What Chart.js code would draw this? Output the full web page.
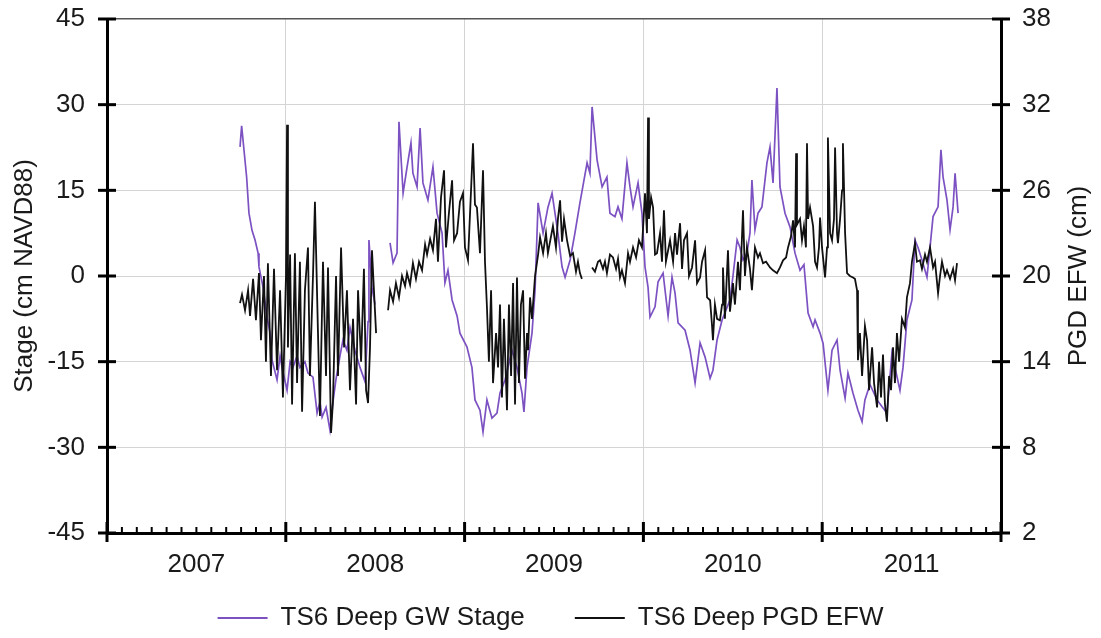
<!DOCTYPE html>
<html>
<head>
<meta charset="utf-8">
<script src="https://cdn.jsdelivr.net/npm/chart.js@4.4.1/dist/chart.umd.min.js"></script>
<style>
  html, body { margin: 0; padding: 0; background: #fff; }
  #wrap { width: 1101px; height: 638px; }
</style>
</head>
<body>
<div id="wrap"><canvas id="chart" width="1101" height="638"></canvas></div>
<script>
// Tick labels / titles
const yearLabels = ['2007', '2008', '2009', '2010', '2011'];
const leftTitle = 'Stage (cm NAVD88)';
const rightTitle = 'PGD EFW (cm)';
const stageName = 'TS6 Deep GW Stage';
const efwName = 'TS6 Deep PGD EFW';

// TS6 Deep GW Stage (cm NAVD88), time in decimal years
const stageT = [2007.744, 2007.753, 2007.781, 2007.794, 2007.811, 2007.828, 2007.845, 2007.850, 2007.873, 2007.895,
  2007.912, 2007.923, 2007.951, 2007.968, 2007.979, 2008.007, 2008.024, 2008.040, 2008.063, 2008.079,
  2008.107, 2008.124, 2008.152, 2008.175, 2008.191, 2008.203, 2008.225, 2008.247, 2008.264, 2008.281,
  2008.303, 2008.320, 2008.342, 2008.359, 2008.387, 2008.415, 2008.443, 2008.460, 2008.465, 2008.482,
  2008.499, 2008.540,
  2008.583, 2008.600, 2008.622, 2008.633, 2008.656, 2008.678, 2008.700, 2008.711, 2008.734, 2008.751,
  2008.767, 2008.795, 2008.823, 2008.846, 2008.874, 2008.890, 2008.907, 2008.930, 2008.958, 2008.974,
  2009.013, 2009.041, 2009.058, 2009.086, 2009.103, 2009.125, 2009.153, 2009.181, 2009.198, 2009.226,
  2009.265, 2009.293, 2009.321, 2009.332, 2009.349, 2009.377, 2009.394, 2009.411, 2009.439, 2009.466,
  2009.489, 2009.522, 2009.545, 2009.562, 2009.590, 2009.617, 2009.645, 2009.685, 2009.701, 2009.713,
  2009.741, 2009.769, 2009.796, 2009.813, 2009.841, 2009.858, 2009.880, 2009.908, 2009.925, 2009.942,
  2009.970, 2009.992, 2010.009, 2010.026, 2010.037, 2010.065, 2010.082, 2010.110, 2010.138, 2010.160,
  2010.177, 2010.194, 2010.233, 2010.261, 2010.289, 2010.317, 2010.345, 2010.373, 2010.389, 2010.412,
  2010.440, 2010.484, 2010.501, 2010.524, 2010.540, 2010.557, 2010.579, 2010.596, 2010.607, 2010.624,
  2010.641, 2010.663, 2010.691, 2010.708, 2010.725, 2010.747, 2010.764, 2010.792, 2010.820, 2010.848,
  2010.876, 2010.898, 2010.921, 2010.949, 2010.960, 2010.988, 2011.005, 2011.032, 2011.055, 2011.083,
  2011.100, 2011.128, 2011.144, 2011.172, 2011.200, 2011.223, 2011.239, 2011.267, 2011.307, 2011.335,
  2011.362, 2011.390, 2011.407, 2011.435, 2011.452, 2011.474, 2011.502, 2011.519, 2011.536, 2011.558,
  2011.586, 2011.603, 2011.620, 2011.648, 2011.664, 2011.676, 2011.698, 2011.715, 2011.732, 2011.743,
  2011.760];
const stageV = [22.6, 26.3, 17.3, 11, 8, 6.3, 4, 1.6, -2, -7.2,
  -10, -14.7, -18.2, -14, -16, -20, -15, -16, -14, -16,
  -15, -17, -17.7, -24, -22, -24.7, -23, -27, -22, -18,
  -14, -11.2, -13, -9, -13, -16, -18.5, -8, 6.3, -2,
  -5, null,
  5.8, 2.3, 4, 27, 14.5, 19, 23.3, 18, 15.6, 25.9,
  16.3, 13.3, 19.1, 11, 7.5, -1.2, 1, -4.2, -7, -10,
  -12.4, -16, -21.7, -23.5, -27.3, -21.7, -24.9, -24, -20.5, -18.2,
  -13, -16, -20.5, -23.8, -16, -10, -2.5, 12.8, 7.5, 12,
  14.5, 7.5, 1.6, -0.2, 2.8, 7.5, 12.8, 19.8, 18, 29.6,
  20.3, 15.6, 17.3, 11, 10.4, 12.1, 10, 19.8, 15.6, 12.1,
  16.3, 11, 1.6, -2, -7.2, -5.4, -1, 0.5, -7, -0.2,
  -3, -8.2, -9.5, -13, -18.7, -11.7, -14.2, -17.9, -16.5, -11.2,
  -7.7, -4.2, 0, 6.3, 5, 2.8, 4, 7.5, 16.8, 8.1,
  11, 12.1, 19.8, 22.6, 16.3, 32.9, 15.6, 11, 8.6, 4,
  1, 2, -6.5, -8.9, -7.7, -10, -11.8, -20, -13, -11.2,
  -16.5, -21.4, -17, -20.5, -23.5, -25.5, -21.7, -19, -21.7, -22.9,
  -24, -13.5, -16, -20, -16, -7.7, -4.2, 6.3, 5, 2.8,
  -0.2, 5, 10.4, 12.1, 22.1, 17.3, 13.3, 8.1, 12.1, 18,
  11];

// TS6 Deep PGD EFW (cm), time in decimal years
const efwT = [2007.744, 2007.755, 2007.772, 2007.789, 2007.800, 2007.817, 2007.833, 2007.850, 2007.861, 2007.878,
  2007.889, 2007.900, 2007.917, 2007.934, 2007.951, 2007.968, 2007.984, 2008.001, 2008.007, 2008.012,
  2008.024, 2008.035, 2008.051, 2008.063, 2008.079, 2008.091, 2008.107, 2008.124, 2008.135, 2008.152,
  2008.163, 2008.180, 2008.191, 2008.208, 2008.225, 2008.236, 2008.253, 2008.264, 2008.281, 2008.292,
  2008.309, 2008.326, 2008.342, 2008.359, 2008.376, 2008.393, 2008.404, 2008.421, 2008.437, 2008.449,
  2008.460, 2008.471, 2008.482, 2008.493, 2008.505, 2008.520,
  2008.572, 2008.583, 2008.600, 2008.616, 2008.633, 2008.650, 2008.667, 2008.678, 2008.695, 2008.711,
  2008.728, 2008.745, 2008.762, 2008.779, 2008.790, 2008.807, 2008.823, 2008.840, 2008.851, 2008.868,
  2008.885, 2008.896, 2008.913, 2008.930, 2008.941, 2008.958, 2008.974, 2008.991, 2009.002, 2009.019,
  2009.036, 2009.047, 2009.058, 2009.069, 2009.086, 2009.103, 2009.114, 2009.125, 2009.136, 2009.148,
  2009.159, 2009.176, 2009.187, 2009.198, 2009.209, 2009.220, 2009.237, 2009.248, 2009.260, 2009.271,
  2009.282, 2009.293, 2009.304, 2009.315, 2009.327, 2009.338, 2009.349, 2009.355, 2009.366, 2009.377,
  2009.394, 2009.411, 2009.422, 2009.439, 2009.455, 2009.466, 2009.494, 2009.511, 2009.522, 2009.534,
  2009.545, 2009.556, 2009.573, 2009.590, 2009.606, 2009.623, 2009.634, 2009.645, 2009.656, 2009.690,
  2009.713, 2009.729, 2009.746, 2009.757, 2009.774, 2009.785, 2009.796, 2009.813, 2009.830, 2009.847,
  2009.858, 2009.869, 2009.880, 2009.897, 2009.914, 2009.925, 2009.942, 2009.959, 2009.975, 2009.992,
  2010.009, 2010.020, 2010.026, 2010.031, 2010.043, 2010.054, 2010.065, 2010.076, 2010.093, 2010.104,
  2010.115, 2010.126, 2010.149, 2010.166, 2010.177, 2010.188, 2010.205, 2010.216, 2010.227, 2010.244,
  2010.255, 2010.272, 2010.289, 2010.300, 2010.317, 2010.328, 2010.345, 2010.356, 2010.373, 2010.384,
  2010.389, 2010.400, 2010.412, 2010.428, 2010.440, 2010.445, 2010.456, 2010.473, 2010.484, 2010.501,
  2010.512, 2010.529, 2010.540, 2010.557, 2010.568, 2010.579, 2010.596, 2010.607, 2010.624, 2010.641,
  2010.652, 2010.669, 2010.686, 2010.708, 2010.725, 2010.747, 2010.764, 2010.781, 2010.798, 2010.809,
  2010.826, 2010.837, 2010.848, 2010.854, 2010.859, 2010.876, 2010.887, 2010.898, 2010.909, 2010.915,
  2010.921, 2010.932, 2010.949, 2010.960, 2010.971, 2010.982, 2010.988, 2010.999, 2011.016, 2011.027,
  2011.032, 2011.044, 2011.055, 2011.066, 2011.072, 2011.083, 2011.088, 2011.100, 2011.111, 2011.116,
  2011.128, 2011.139, 2011.155, 2011.172, 2011.183, 2011.195, 2011.200, 2011.211, 2011.223, 2011.239,
  2011.251, 2011.262, 2011.279, 2011.290, 2011.307, 2011.318, 2011.329, 2011.340, 2011.351, 2011.362,
  2011.374, 2011.385, 2011.396, 2011.407, 2011.418, 2011.430, 2011.446, 2011.463, 2011.474, 2011.491,
  2011.502, 2011.519, 2011.530, 2011.547, 2011.558, 2011.575, 2011.586, 2011.603, 2011.620, 2011.631,
  2011.648, 2011.659, 2011.670, 2011.687, 2011.698, 2011.715, 2011.732, 2011.743, 2011.754];
const efwV = [18.1, 18.7, 17.6, 19.0, 17.2, 19.8, 16.9, 20.2, 15.5, 20.0,
  14.0, 20.9, 13.0, 20.5, 13.4, 19.0, 11.5, 20.0, 30.6, 15.0,
  21.5, 11.0, 21.6, 12.5, 21.0, 10.5, 19.0, 22.0, 13.0, 20.0,
  25.2, 16.0, 10.2, 21.0, 13.0, 20.6, 9.0, 11.3, 20.0, 13.0,
  22.0, 15.0, 19.0, 12.0, 17.0, 11.0, 19.0, 14.0, 20.5, 12.0,
  11.1, 15.0, 21.8, 19.0, 16.0, null,
  17.6, 19.0, 18.2, 19.5, 18.5, 20.0, 19.3, 20.2, 19.4, 20.9,
  19.8, 21.0, 20.4, 22.2, 21.5, 22.6, 21.8, 24.0, 21.0, 25.5,
  27.4, 22.0, 24.5, 26.7, 22.5, 23.0, 25.2, 25.8, 22.0, 21.1,
  26.0, 29.3, 25.0, 24.8, 21.6, 27.4, 21.0, 17.8, 14.0, 19.0,
  12.5, 16.0, 13.6, 18.0, 11.5, 17.0, 10.6, 18.0, 13.0, 19.5,
  11.0, 19.9, 12.5, 18.0, 19.0, 12.8, 16.0, 14.8, 18.5, 17.0,
  20.0, 21.5, 22.7, 21.6, 23.0, 21.6, 23.5, 22.0, 24.0, 25.3,
  22.4, 24.0, 22.5, 21.4, 21.6, 20.3, 21.0, 20.2, 19.8, null,
  20.6, 20.3, 21.0, 21.1, 20.5, 21.0, 20.2, 21.5, 21.3, 20.5,
  21.2, 19.9, 20.4, 19.5, 21.6, 21.0, 22.0, 21.3, 22.5, 22.0,
  25.8, 23.0, 31.1, 24.0, 25.5, 24.8, 21.5, 21.6, 23.0, 21.0,
  24.6, 21.0, 22.5, 21.0, 23.0, 21.5, 23.7, 20.5, 22.5, 23.0,
  20.0, 20.6, 22.5, 19.5, 19.9, 21.0, 21.8, 18.5, 18.3, 16.5,
  15.5, 18.0, 17.0, 16.9, 18.0, 20.6, 17.0, 21.8, 17.5, 19.5,
  18.0, 21.0, 19.0, 24.6, 20.0, 22.0, 20.5, 19.0, 22.0, 21.3,
  21.6, 20.9, 21.0, 20.6, 20.4, 20.2, 20.6, 21.1, 21.3, 22.0,
  22.8, 23.9, 22.0, 28.6, 23.6, 24.0, 22.5, 23.5, 22.0, 29.3,
  24.0, 24.8, 23.5, 21.0, 20.6, 22.0, 24.1, 22.0, 19.9, 22.0,
  29.7, 23.0, 22.5, 24.0, 29.0, 23.0, 22.3, 24.0, 26.0, 29.3,
  23.0, 20.2, 20.0, 19.9, 19.8, 19.0, 14.1, 16.0, 13.0, 16.5,
  15.5, 12.0, 15.0, 12.5, 10.8, 14.0, 11.5, 14.5, 11.0, 9.8,
  13.0, 12.0, 15.0, 12.5, 16.0, 14.0, 17.0, 16.4, 18.5, 19.5,
  21.0, 22.3, 21.0, 21.1, 20.5, 21.5, 21.0, 22.0, 20.6, 21.0,
  18.8, 20.0, 21.0, 20.0, 20.4, 19.8, 20.5, 19.7, 20.9];

// monthly tick positions on the time axis
const monthTicks = [];
for (let i = 0; i <= 60; i++) monthTicks.push(2007 + i / 12);

const fontFamily = "'Liberation Sans', Arial, Helvetica, sans-serif";
const textColor = '#1a1a1a';
const legendPad = 50;     // gap between legend items
const xAxisHeight = 48;   // room for the year labels under the axis
const legendLift = 26;    // pull the legend row up towards the year labels

function toPoints(ts, vs) {
    return ts.map((t, i) => ({ x: t, y: vs[i] }));
}

// cross tick marks on the axes and the rotated right title
const axisMarks = {
    id: 'axisMarks',
    afterLayout(chart) {
        // only move the top edge, the legend clips to its own box
        chart.legend.top -= legendLift;
    },
    afterDraw(chart) {
        const { ctx, chartArea: a, scales } = chart;
        const seg = (x1, y1, x2, y2) => {
            ctx.beginPath();
            ctx.moveTo(x1, y1);
            ctx.lineTo(x2, y2);
            ctx.stroke();
        };
        ctx.save();
        ctx.strokeStyle = '#000';
        ctx.lineWidth = 3;
        scales.y.ticks.forEach(t => {
            const py = scales.y.getPixelForValue(t.value);
            seg(a.left - 9, py, a.left + 9, py);
        });
        scales.y1.ticks.forEach(t => {
            const py = scales.y1.getPixelForValue(t.value);
            seg(a.right - 9, py, a.right + 9, py);
        });
        scales.x.ticks.forEach((t, i) => {
            const px = scales.x.getPixelForValue(t.value);
            if (i % 12 === 0) {
                ctx.lineWidth = 3;
                seg(px, a.bottom - 11, px, a.bottom + 9);
            } else {
                ctx.lineWidth = 2;
                seg(px, a.bottom - 6, px, a.bottom);
            }
        });
        // right axis title reads bottom-to-top
        ctx.translate(scales.y1.right - 22, (a.top + a.bottom) / 2);
        ctx.rotate(-Math.PI / 2);
        ctx.fillStyle = textColor;
        ctx.font = '26px ' + fontFamily;
        ctx.textAlign = 'center';
        ctx.textBaseline = 'middle';
        ctx.fillText(rightTitle, 0, 0);
        ctx.restore();
    }
};

new Chart(document.getElementById('chart'), {
    type: 'line',
    data: {
        datasets: [{
            label: stageName,
            data: toPoints(stageT, stageV),
            yAxisID: 'y',
            borderColor: '#7c52c2',
            borderWidth: 1.7,
            pointRadius: 0,
            pointBorderWidth: 2,
            pointStyle: 'line',
            tension: 0,
            spanGaps: false,
            order: 2
        }, {
            label: efwName,
            data: toPoints(efwT, efwV),
            yAxisID: 'y1',
            borderColor: '#111',
            borderWidth: 1.8,
            pointRadius: 0,
            pointBorderWidth: 2,
            pointStyle: 'line',
            tension: 0,
            spanGaps: false,
            order: 1
        }]
    },
    options: {
        responsive: false,
        animation: false,
        events: [],
        layout: { padding: { top: 19, left: 0, right: 0, bottom: 0 } },
        scales: {
            x: {
                type: 'linear',
                position: 'bottom',
                min: 2007,
                max: 2012,
                afterBuildTicks: (scale) => {
                    scale.ticks = monthTicks.map(v => ({ value: v }));
                },
                afterFit: (scale) => { scale.height = xAxisHeight; },
                border: { display: true, color: '#000', width: 3 },
                grid: {
                    drawTicks: false,
                    lineWidth: 1,
                    color: (c) => (c.index % 12 === 0 && c.index > 0 && c.index < 60) ? '#d4d4d4' : 'rgba(0,0,0,0)'
                },
                ticks: {
                    autoSkip: false,
                    maxRotation: 0,
                    padding: 16,
                    color: textColor,
                    font: { family: fontFamily, size: 26 },
                    callback: (value, index) => index % 12 === 6 ? yearLabels[(index - 6) / 12] : ''
                }
            },
            y: {
                position: 'left',
                min: -45,
                max: 45,
                afterFit: (scale) => {
                    scale.width = 107;
                    scale.paddingTop = 0;
                    scale.paddingBottom = 0;
                },
                border: { display: true, color: '#000', width: 3 },
                grid: {
                    drawTicks: false,
                    lineWidth: (c) => c.tick && c.tick.value === 45 ? 1.5 : 1,
                    color: (c) => {
                        if (!c.tick) return '#d4d4d4';
                        if (c.tick.value === 45) return '#555';
                        if (c.tick.value === -45) return 'rgba(0,0,0,0)';
                        return '#d4d4d4';
                    }
                },
                ticks: {
                    stepSize: 15,
                    padding: 22,
                    color: textColor,
                    font: { family: fontFamily, size: 26 }
                },
                title: {
                    display: true,
                    text: leftTitle,
                    color: textColor,
                    font: { family: fontFamily, size: 26 },
                    padding: { top: 9, bottom: 0 }
                }
            },
            y1: {
                position: 'right',
                min: 2,
                max: 38,
                afterFit: (scale) => {
                    scale.width = 100;
                    scale.paddingTop = 0;
                    scale.paddingBottom = 0;
                },
                border: { display: true, color: '#000', width: 3 },
                grid: { display: false, drawTicks: false },
                ticks: {
                    stepSize: 6,
                    padding: 21,
                    color: textColor,
                    font: { family: fontFamily, size: 26 }
                }
            }
        },
        plugins: {
            tooltip: { enabled: false },
            legend: {
                position: 'bottom',
                maxHeight: 105 - xAxisHeight,
                labels: {
                    usePointStyle: true,
                    pointStyle: 'line',
                    pointStyleWidth: 50,
                    padding: legendPad,
                    color: textColor,
                    font: { family: fontFamily, size: 26 },
                    sort: (a, b) => a.datasetIndex - b.datasetIndex
                }
            }
        }
    },
    plugins: [axisMarks]
});
</script>
</body>
</html>
